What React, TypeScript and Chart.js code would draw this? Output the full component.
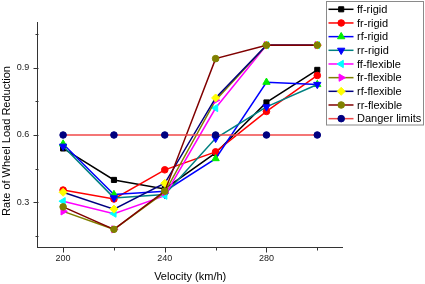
import React, { useEffect, useRef } from 'react';
import { Chart, registerables } from 'chart.js';

Chart.register(...registerables);

// ---- data ----
const velocities = [200, 220, 240, 260, 280, 300];
const ffRigid = [0.54, 0.40, 0.36, 0.52, 0.745, 0.89];
const frRigid = [0.355, 0.315, 0.445, 0.525, 0.705, 0.865];
const rfRigid = [0.56, 0.335, 0.35, 0.495, 0.835, 0.825];
const rrRigid = [0.55, 0.32, 0.335, 0.585, 0.725, 0.825];
const ffFlexible = [0.305, 0.25, 0.33, 0.72, 1.0, 1.0];
const frFlexible = [0.26, 0.18, 0.345, 0.755, 1.0, 1.0];
const rfFlexible = [0.345, 0.27, 0.385, 0.765, 1.0, 1.0];
const rrFlexible = [0.28, 0.18, 0.35, 0.94, 1.0, 1.0];
const dangerLimits = [0.6, 0.6, 0.6, 0.6, 0.6, 0.6];

const seriesLabels = [
  'ff-rigid', 'fr-rigid', 'rf-rigid', 'rr-rigid',
  'ff-flexible', 'fr-flexible', 'rf-flexible', 'rr-flexible', 'Danger limits',
];

const xMajorTicks = [200, 240, 280];
const xMinorTicks = [220, 260, 300];
const yMajorTicks = [0.3, 0.6, 0.9];
const yTickLabels = ['0.3', '0.6', '0.9'];
const yMinorTicks = [0.15, 0.45, 0.75, 1.05];

const xTitle = 'Velocity (km/h)';
const yTitle = 'Rate of Wheel Load Reduction';

const FONT = '"Liberation Sans", Arial, sans-serif';

type Style = {
  line: string;
  marker: string;
  shape: string;
  rotation: number;
  radius: number;
};

const styles: Style[] = [
  { line: '#000000', marker: '#000000', shape: 'rect', rotation: 0, radius: 3.6 },
  { line: '#ff0000', marker: '#ff0000', shape: 'circle', rotation: 0, radius: 3.3 },
  { line: '#0000ff', marker: '#00ee00', shape: 'triangle', rotation: 0, radius: 4.2 },
  { line: '#008080', marker: '#0000ff', shape: 'triangle', rotation: 180, radius: 4.2 },
  { line: '#ff00ff', marker: '#00ffff', shape: 'triangle', rotation: 270, radius: 4.2 },
  { line: '#808000', marker: '#ff00ff', shape: 'triangle', rotation: 90, radius: 4.2 },
  { line: '#000080', marker: '#ffff00', shape: 'rectRot', rotation: 0, radius: 4 },
  { line: '#800000', marker: '#808000', shape: 'circle', rotation: 0, radius: 3.3 },
  { line: '#f04848', marker: '#000080', shape: 'circle', rotation: 0, radius: 3.3 },
];

const allSeries = [
  ffRigid, frRigid, rfRigid, rrRigid,
  ffFlexible, frFlexible, rfFlexible, rrFlexible, dangerLimits,
];

function drawMarker(ctx: CanvasRenderingContext2D, s: Style, x: number, y: number) {
  const r = s.radius;
  ctx.save();
  ctx.fillStyle = s.marker;
  ctx.strokeStyle = s.marker;
  ctx.lineWidth = 1;
  ctx.beginPath();
  if (s.shape === 'rect') {
    const h = Math.SQRT1_2 * r;
    ctx.rect(x - h, y - h, 2 * h, 2 * h);
  } else if (s.shape === 'circle') {
    ctx.arc(x, y, r, 0, Math.PI * 2);
  } else if (s.shape === 'rectRot') {
    ctx.moveTo(x, y - r);
    ctx.lineTo(x + r, y);
    ctx.lineTo(x, y + r);
    ctx.lineTo(x - r, y);
    ctx.closePath();
  } else {
    let rad = (s.rotation * Math.PI) / 180;
    ctx.moveTo(x + Math.sin(rad) * r, y - Math.cos(rad) * r);
    rad += (2 * Math.PI) / 3;
    ctx.lineTo(x + Math.sin(rad) * r, y - Math.cos(rad) * r);
    rad += (2 * Math.PI) / 3;
    ctx.lineTo(x + Math.sin(rad) * r, y - Math.cos(rad) * r);
    ctx.closePath();
  }
  ctx.fill();
  ctx.stroke();
  ctx.restore();
}

const decorPlugin = {
  id: 'decor',
  afterDraw(chart: any) {
    const { ctx, chartArea, scales } = chart;
    const xs = scales.x;
    const ys = scales.y;
    ctx.save();
    ctx.strokeStyle = '#333333';
    ctx.lineWidth = 1;
    ctx.beginPath();
    const b = Math.round(chartArea.bottom) + 0.5;
    const l = Math.round(chartArea.left) + 0.5;
    xMajorTicks.forEach((v) => {
      const px = Math.round(xs.getPixelForValue(v)) + 0.5;
      ctx.moveTo(px, b); ctx.lineTo(px, b + 5);
    });
    xMinorTicks.forEach((v) => {
      const px = Math.round(xs.getPixelForValue(v)) + 0.5;
      ctx.moveTo(px, b); ctx.lineTo(px, b + 3);
    });
    yMajorTicks.forEach((v) => {
      const py = Math.round(ys.getPixelForValue(v)) + 0.5;
      ctx.moveTo(l, py); ctx.lineTo(l - 5, py);
    });
    yMinorTicks.forEach((v) => {
      const py = Math.round(ys.getPixelForValue(v)) + 0.5;
      ctx.moveTo(l, py); ctx.lineTo(l - 3, py);
    });
    ctx.stroke();

    // y title
    ctx.save();
    ctx.translate(9.5, 141);
    ctx.rotate(-Math.PI / 2);
    ctx.font = `11px ${FONT}`;
    ctx.fillStyle = '#000000';
    ctx.textAlign = 'center';
    ctx.textBaseline = 'alphabetic';
    ctx.fillText(yTitle, 0, 0);
    ctx.restore();

    // legend
    const bx = 326.5, by = 1.5, bw = 97, bh = 123.5;
    ctx.fillStyle = '#ffffff';
    ctx.fillRect(bx, by, bw, bh);
    ctx.strokeStyle = '#8a8a8a';
    ctx.strokeRect(bx, by, bw, bh);
    ctx.font = `11px ${FONT}`;
    ctx.textAlign = 'left';
    ctx.textBaseline = 'middle';
    const rowH = 13.67;
    chart.data.datasets.forEach((ds: any, i: number) => {
      const s = styles[i];
      const cy = 9.3 + i * rowH;
      ctx.strokeStyle = s.line;
      ctx.lineWidth = 1.5;
      ctx.beginPath();
      ctx.moveTo(328.5, cy);
      ctx.lineTo(353.5, cy);
      ctx.stroke();
      drawMarker(ctx, s, 341.2, cy);
      ctx.fillStyle = '#000000';
      ctx.fillText(ds.label, 357, cy + 0.5);
    });
    ctx.restore();
  },
};

export default function App() {
  const ref = useRef<HTMLCanvasElement>(null);
  useEffect(() => {
    document.body.style.margin = '0';
    const n = allSeries.length;
    const datasets = allSeries.map((vals, i) => {
      const s = styles[i];
      return {
        label: seriesLabels[i],
        data: velocities.map((v, j) => ({ x: v, y: vals[j] })),
        borderColor: s.line,
        backgroundColor: s.marker,
        pointBackgroundColor: s.marker,
        pointBorderColor: s.marker,
        pointBorderWidth: 1,
        pointStyle: s.shape,
        pointRotation: s.rotation,
        pointRadius: s.radius,
        borderWidth: 1.5,
        tension: 0,
        fill: false,
        order: n - i,
      };
    });
    const chart = new Chart(ref.current as HTMLCanvasElement, {
      type: 'line',
      data: { datasets },
      options: {
        animation: false,
        responsive: false,
        devicePixelRatio: 1,
        layout: { padding: { left: 0, top: 22.7, right: 82.3, bottom: 0 } },
        plugins: { legend: { display: false }, tooltip: { enabled: false } },
        scales: {
          x: {
            type: 'linear',
            min: 190,
            max: 310,
            afterBuildTicks: (s: any) => {
              s.ticks = xMajorTicks.map((v) => ({ value: v }));
            },
            afterFit: (s: any) => {
              s.height = 36.7;
            },
            ticks: {
              font: { family: FONT, size: 9 },
              color: '#222222',
              padding: 6,
              maxRotation: 0,
              autoSkip: false,
              callback: (v: any) => String(v),
            },
            grid: { display: true, drawOnChartArea: false, drawTicks: false },
            border: { display: true, color: '#333333', width: 1 },
            title: {
              display: true,
              text: xTitle,
              color: '#000000',
              font: { family: FONT, size: 11, lineHeight: 1.2 },
              padding: { top: 0, bottom: 0.4 },
            },
          },
          y: {
            type: 'linear',
            min: 0.1,
            max: 1.1,
            afterBuildTicks: (s: any) => {
              s.ticks = yMajorTicks.map((v) => ({ value: v }));
            },
            afterFit: (s: any) => {
              s.width = 37.7;
            },
            ticks: {
              font: { family: FONT, size: 9 },
              color: '#222222',
              padding: 8.5,
              autoSkip: false,
              callback: (v: any) => {
                const k = yMajorTicks.findIndex((t) => Math.abs(t - Number(v)) < 1e-6);
                return k >= 0 ? yTickLabels[k] : '';
              },
            },
            grid: { display: true, drawOnChartArea: false, drawTicks: false },
            border: { display: true, color: '#333333', width: 1 },
          },
        },
      },
      plugins: [decorPlugin],
    } as any);
    return () => chart.destroy();
  }, []);
  return (
    <div style={{ width: 425, height: 284 }}>
      <canvas ref={ref} width={425} height={284} style={{ display: 'block' }} />
    </div>
  );
}
